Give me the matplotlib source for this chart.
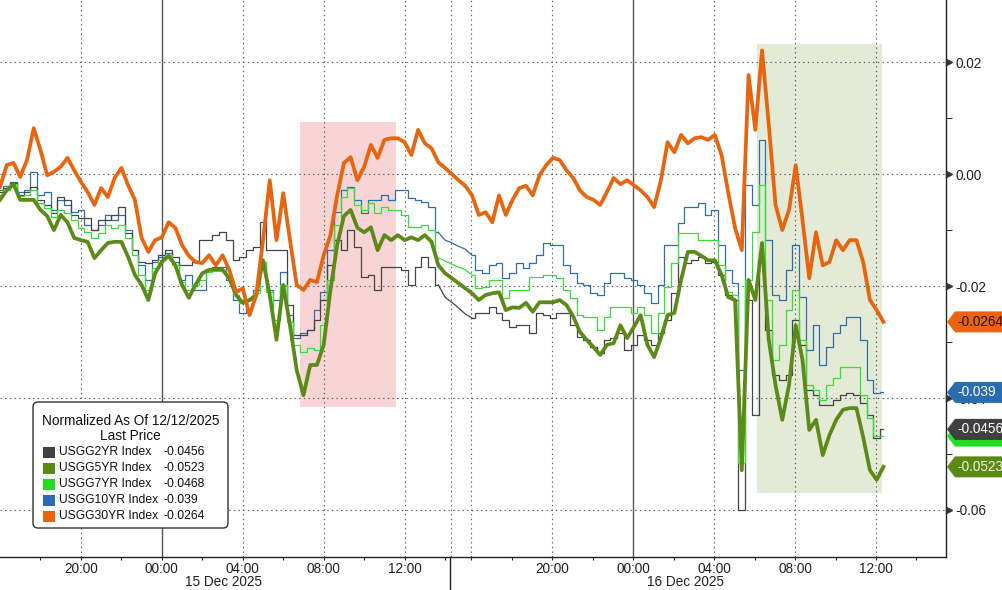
import numpy as np
import matplotlib
matplotlib.use("Agg")
import matplotlib.pyplot as plt
import matplotlib.transforms as mtransforms
from matplotlib.patches import Polygon, Rectangle, FancyBboxPatch

plt.rcParams['font.family'] = ['Liberation Sans', 'DejaVu Sans']

# 20-minute samples, hours since 14 Dec 16:00 (the session break is squeezed out)
hours = np.arange(132) / 3.0
GAP = (65, 70)  # samples either side of the break, joined by a straight line

usgg2yr = [-0.0032, -0.0025, -0.0016, -0.0038, -0.0032, -0.0023, -0.0046, -0.0055, -0.0070, -0.0041,
           -0.0046, -0.0073, -0.0079, -0.0079, -0.0100, -0.0082, -0.0082, -0.0073, -0.0059, -0.0105,
           -0.0136, -0.0157, -0.0159, -0.0154, -0.0145, -0.0136, -0.0148, -0.0163, -0.0163, -0.0157,
           -0.0118, -0.0118, -0.0109, -0.0104, -0.0118, -0.0154, -0.0148, -0.0136, -0.0130, -0.0086,
           -0.0136, -0.0136, -0.0136, -0.0234, -0.0288, -0.0288, -0.0279, -0.0261, -0.0225, -0.0163,
           -0.0118, -0.0136, -0.0100, -0.0130, -0.0184, -0.0180, -0.0207, -0.0166, -0.0166, -0.0166,
           -0.0171, -0.0198, -0.0166, -0.0148, -0.0166, -0.0198, -0.0220, -0.0229, -0.0239, -0.0250,
           -0.0257, -0.0248, -0.0248, -0.0238, -0.0248, -0.0261, -0.0273, -0.0270, -0.0270, -0.0284,
           -0.0248, -0.0252, -0.0257, -0.0248, -0.0248, -0.0270, -0.0291, -0.0296, -0.0309, -0.0320,
           -0.0296, -0.0293, -0.0284, -0.0314, -0.0305, -0.0288, -0.0296, -0.0305, -0.0284, -0.0261,
           -0.0213, -0.0148, -0.0159, -0.0154, -0.0148, -0.0159, -0.0157, -0.0180, -0.0216, -0.0225,
           -0.0600, -0.0225, -0.0430, -0.0154, -0.0279, -0.0359, -0.0368, -0.0359, -0.0261, -0.0305,
           -0.0386, -0.0395, -0.0413, -0.0413, -0.0404, -0.0395, -0.0391, -0.0395, -0.0409, -0.0430,
           -0.0471, -0.0456]

usgg5yr = [-0.0046, -0.0029, -0.0018, -0.0046, -0.0046, -0.0046, -0.0064, -0.0075, -0.0100, -0.0073,
           -0.0086, -0.0114, -0.0118, -0.0121, -0.0150, -0.0136, -0.0123, -0.0121, -0.0121, -0.0148,
           -0.0180, -0.0198, -0.0225, -0.0177, -0.0157, -0.0146, -0.0163, -0.0198, -0.0221, -0.0198,
           -0.0177, -0.0171, -0.0171, -0.0171, -0.0186, -0.0216, -0.0230, -0.0225, -0.0216, -0.0154,
           -0.0216, -0.0296, -0.0198, -0.0270, -0.0350, -0.0395, -0.0341, -0.0341, -0.0305, -0.0207,
           -0.0127, -0.0075, -0.0064, -0.0096, -0.0104, -0.0095, -0.0136, -0.0109, -0.0118, -0.0109,
           -0.0118, -0.0113, -0.0118, -0.0109, -0.0121, -0.0163, -0.0177, -0.0186, -0.0195, -0.0204,
           -0.0213, -0.0225, -0.0216, -0.0213, -0.0211, -0.0243, -0.0238, -0.0239, -0.0230, -0.0246,
           -0.0229, -0.0229, -0.0229, -0.0225, -0.0234, -0.0254, -0.0282, -0.0296, -0.0309, -0.0323,
           -0.0305, -0.0302, -0.0270, -0.0293, -0.0273, -0.0252, -0.0305, -0.0327, -0.0293, -0.0252,
           -0.0248, -0.0189, -0.0139, -0.0139, -0.0146, -0.0154, -0.0154, -0.0180, -0.0220, -0.0225,
           -0.0529, -0.0189, -0.0225, -0.0123, -0.0296, -0.0377, -0.0439, -0.0377, -0.0270, -0.0332,
           -0.0457, -0.0439, -0.0502, -0.0466, -0.0439, -0.0421, -0.0418, -0.0418, -0.0470, -0.0529,
           -0.0546, -0.0523]

usgg7yr = [-0.0038, -0.0029, -0.0018, -0.0039, -0.0038, -0.0029, -0.0052, -0.0061, -0.0077, -0.0064,
           -0.0070, -0.0082, -0.0096, -0.0104, -0.0114, -0.0105, -0.0091, -0.0096, -0.0091, -0.0114,
           -0.0145, -0.0180, -0.0207, -0.0168, -0.0154, -0.0145, -0.0163, -0.0193, -0.0207, -0.0198,
           -0.0189, -0.0175, -0.0171, -0.0171, -0.0186, -0.0216, -0.0230, -0.0225, -0.0213, -0.0157,
           -0.0211, -0.0261, -0.0198, -0.0264, -0.0305, -0.0318, -0.0311, -0.0314, -0.0270, -0.0189,
           -0.0091, -0.0041, -0.0025, -0.0055, -0.0064, -0.0052, -0.0070, -0.0059, -0.0064, -0.0064,
           -0.0073, -0.0095, -0.0095, -0.0091, -0.0100, -0.0150, -0.0155, -0.0161, -0.0166, -0.0171,
           -0.0180, -0.0204, -0.0202, -0.0189, -0.0189, -0.0221, -0.0207, -0.0207, -0.0207, -0.0184,
           -0.0184, -0.0180, -0.0180, -0.0186, -0.0207, -0.0221, -0.0252, -0.0255, -0.0255, -0.0279,
           -0.0255, -0.0238, -0.0238, -0.0238, -0.0248, -0.0238, -0.0252, -0.0284, -0.0248, -0.0202,
           -0.0159, -0.0105, -0.0105, -0.0105, -0.0118, -0.0118, -0.0118, -0.0163, -0.0211, -0.0216,
           -0.0516, -0.0189, -0.0104, -0.0020, -0.0225, -0.0332, -0.0305, -0.0243, -0.0207, -0.0296,
           -0.0377, -0.0386, -0.0404, -0.0377, -0.0364, -0.0345, -0.0345, -0.0345, -0.0395, -0.0436,
           -0.0468, -0.0468]

usgg10yr = [-0.0029, -0.0021, -0.0014, -0.0032, -0.0029, 0.0004, -0.0038, -0.0032, -0.0064, -0.0046,
            -0.0055, -0.0068, -0.0064, -0.0091, -0.0100, -0.0091, -0.0073, -0.0082, -0.0073, -0.0100,
            -0.0136, -0.0163, -0.0189, -0.0157, -0.0148, -0.0141, -0.0157, -0.0189, -0.0180, -0.0207,
            -0.0207, -0.0171, -0.0166, -0.0166, -0.0189, -0.0225, -0.0248, -0.0225, -0.0207, -0.0157,
            -0.0207, -0.0225, -0.0175, -0.0252, -0.0293, -0.0284, -0.0279, -0.0243, -0.0211, -0.0136,
            -0.0068, -0.0029, -0.0023, -0.0046, -0.0070, -0.0046, -0.0046, -0.0038, -0.0046, -0.0029,
            -0.0029, -0.0043, -0.0046, -0.0050, -0.0059, -0.0104, -0.0118, -0.0123, -0.0129, -0.0134,
            -0.0145, -0.0171, -0.0177, -0.0163, -0.0159, -0.0186, -0.0177, -0.0159, -0.0168, -0.0159,
            -0.0145, -0.0123, -0.0127, -0.0127, -0.0163, -0.0177, -0.0195, -0.0198, -0.0213, -0.0216,
            -0.0195, -0.0177, -0.0177, -0.0186, -0.0189, -0.0198, -0.0213, -0.0230, -0.0198, -0.0127,
            -0.0127, -0.0088, -0.0059, -0.0059, -0.0052, -0.0073, -0.0064, -0.0127, -0.0171, -0.0195,
            -0.0350, -0.0020, -0.0055, 0.0061, -0.0118, -0.0216, -0.0225, -0.0171, -0.0127, -0.0220,
            -0.0314, -0.0270, -0.0341, -0.0309, -0.0284, -0.0270, -0.0255, -0.0255, -0.0296, -0.0368,
            -0.0391, -0.0390]

usgg30yr = [-0.0023, 0.0016, 0.0020, -0.0005, 0.0025, 0.0082, 0.0043, -0.0002, 0.0004, 0.0013,
            0.0029, 0.0007, -0.0014, -0.0032, -0.0055, -0.0025, -0.0041, -0.0007, 0.0011, -0.0020,
            -0.0046, -0.0114, -0.0139, -0.0118, -0.0113, -0.0086, -0.0096, -0.0127, -0.0146, -0.0157,
            -0.0159, -0.0145, -0.0163, -0.0145, -0.0171, -0.0211, -0.0204, -0.0252, -0.0216, -0.0118,
            -0.0011, -0.0118, -0.0034, -0.0118, -0.0198, -0.0207, -0.0189, -0.0193, -0.0145, -0.0109,
            -0.0038, 0.0020, 0.0030, -0.0011, 0.0013, 0.0052, 0.0029, 0.0061, 0.0064, 0.0064,
            0.0057, 0.0034, 0.0079, 0.0055, 0.0046, 0.0021, 0.0011, 0.0000, -0.0011, -0.0021,
            -0.0038, -0.0073, -0.0068, -0.0086, -0.0038, -0.0073, -0.0046, -0.0025, -0.0021, -0.0038,
            -0.0002, 0.0016, 0.0029, 0.0025, 0.0007, -0.0007, -0.0029, -0.0041, -0.0046, -0.0055,
            -0.0032, -0.0007, -0.0018, -0.0011, -0.0020, -0.0029, -0.0041, -0.0059, -0.0011, 0.0057,
            0.0039, 0.0070, 0.0055, 0.0064, 0.0066, 0.0061, 0.0070, 0.0034, -0.0034, -0.0096,
            -0.0136, 0.0177, 0.0079, 0.0221, 0.0088, -0.0055, -0.0100, -0.0064, 0.0016, -0.0082,
            -0.0186, -0.0104, -0.0163, -0.0157, -0.0118, -0.0136, -0.0118, -0.0118, -0.0157, -0.0225,
            -0.0243, -0.0264]

names = ["USGG2YR Index", "USGG5YR Index", "USGG7YR Index", "USGG10YR Index", "USGG30YR Index"]
last_price = ["-0.0456", "-0.0523", "-0.0468", "-0.039", "-0.0264"]
series = [usgg2yr, usgg5yr, usgg7yr, usgg10yr, usgg30yr]
colors = ["#454545", "#5b8a18", "#35e035", "#2f6eae", "#e8650f"]
tag_colors = ["#404040", "#5a8a14", "#22dd22", "#2a6cb0", "#ea640f"]
tag_text = ["white", "#eef8dc", "#0a3a0a", "white", "#2a1000"]
tag_order = [4, 3, 2, 0, 1]  # later ones sit on top

tick_hours = [4, 8, 12, 16, 20, 27.3, 31.3, 35.3, 39.3, 43.3]
tick_labels = ["20:00", "00:00", "04:00", "08:00", "12:00"] * 2
minor_hours = [2, 6, 10, 14, 18, 22, 23.3, 25.3, 29.3, 33.3, 37.3, 41.3, 45.3]
dotted_hours = [4, 12, 16, 20, 22.3, 23.3, 27.3, 35.3, 39.3, 43.3]
midnight_hours = [8, 31.3]
break_hour = 22.25
dates = [(11.05, "15 Dec 2025"), (33.9, "16 Dec 2025")]

# highlighted windows: (x0, x1, y0, y1)
pink_box = (14.83, 19.57, -0.0416, 0.0093)
green_box = (37.42, 43.6, -0.0570, 0.0232)

fig = plt.figure(figsize=(10.02, 5.90), dpi=100)
ax = fig.add_axes([0, 33 / 590, 946 / 1002, 557 / 590])
ax.set_xlim(0, 46.76)
ax.set_ylim(-0.0684, 0.0311)

for s in ["left", "top"]:
    ax.spines[s].set_visible(False)
for s in ["bottom", "right"]:
    ax.spines[s].set_color("#222222")
    ax.spines[s].set_linewidth(1)

# shaded windows
for (x0, x1, y0, y1), fc in [(pink_box, "#f8d4d4"), (green_box, "#e3ead6")]:
    ax.add_patch(Rectangle((x0, y0), x1 - x0, y1 - y0, fc=fc, ec="none", zorder=0.2))

dots = (0, (1.2, 3.0))
for v in [0.02, 0.0, -0.02, -0.04, -0.06]:
    ax.axhline(v, color="#555555", lw=0.8, ls=dots, zorder=0.5)
for h in dotted_hours:
    ax.axvline(h, color="#555555", lw=0.8, ls=dots, zorder=0.5)
for h in midnight_hours:
    ax.axvline(h, color="#555555", lw=1.0, zorder=0.5)


def draw_thin(y, color, z):
    y = np.asarray(y)
    a, b = GAP
    ax.plot(hours[:a + 1], y[:a + 1], drawstyle="steps-mid", color=color, lw=0.9, zorder=z)
    ax.plot(hours[a:b + 1], y[a:b + 1], color=color, lw=0.9, zorder=z)
    ax.plot(hours[b:], y[b:], drawstyle="steps-mid", color=color, lw=0.9, zorder=z)


draw_thin(usgg10yr, colors[3], 2)
draw_thin(usgg2yr, colors[0], 2.1)
draw_thin(usgg7yr, colors[2], 2.2)
ax.plot(hours, usgg5yr, color=colors[1], lw=2.7, zorder=3, solid_joinstyle="round")
ax.plot(hours, usgg30yr, color=colors[4], lw=2.7, zorder=3.1, solid_joinstyle="round")

# x axis
ax.set_xticks(tick_hours)
ax.set_xticklabels(tick_labels)
ax.set_xticks(minor_hours, minor=True)
ax.tick_params(axis="x", which="both", length=2.5, width=0.8, color="#222222",
               direction="out", pad=1, labelsize=9.8, labelcolor="#222222")
xt = mtransforms.blended_transform_factory(ax.transData, ax.transAxes)
for h, txt in dates:
    ax.text(h, -0.0449, txt, transform=xt, ha="center", va="center",
            fontsize=9.8, color="#222222", clip_on=False)
ax.plot([break_hour, break_hour], [0, -0.06], transform=xt, color="#222222",
        lw=1, clip_on=False)

# y axis on the right
ax.yaxis.tick_right()
ax.set_yticks([0.02, 0.0, -0.02, -0.04, -0.06])
ax.set_yticklabels(["0.02", "0.00", "-0.02", "-0.04", "-0.06"])
ax.set_yticks([0.01, -0.01, -0.03, -0.05], minor=True)
ax.tick_params(axis="y", which="major", length=0, pad=7, labelsize=9.8, labelcolor="#222222")
ax.tick_params(axis="y", which="minor", length=4, width=0.8, color="#333333", direction="out")
yt = mtransforms.blended_transform_factory(ax.transAxes, ax.transData)
ax.plot([1.0035] * 5, [0.02, 0.0, -0.02, -0.04, -0.06], transform=yt, ls="none",
        marker=">", ms=4.5, color="#333333", clip_on=False, zorder=4)

# last value tags on the right edge
tt = mtransforms.blended_transform_factory(mtransforms.IdentityTransform(), ax.transData)
half = 10.5 / 5600
for z, i in enumerate(tag_order):
    v = series[i][-1]
    pts = [(947, v), (955, v + half), (1002, v + half), (1002, v - half), (955, v - half)]
    ax.add_patch(Polygon(pts, closed=True, transform=tt, fc=tag_colors[i], ec="none",
                         clip_on=False, zorder=10 + z))
    ax.text(957, v, last_price[i], transform=tt, ha="left", va="center", fontsize=9.8,
            color=tag_text[i], clip_on=False, zorder=10.5 + z)

# legend box, laid out in picture pixels (origin top-left)
px = mtransforms.Affine2D().scale(1, -1).translate(0, 590)
fig.add_artist(FancyBboxPatch((33, 402), 195, 126, boxstyle="round,pad=0,rounding_size=5",
                              transform=px, fc="white", ec="#333333", lw=1, zorder=5))
fig.text(130.5, 421, "Normalized As Of 12/12/2025", transform=px, ha="center", va="center",
         fontsize=9.8, color="#111111", zorder=6)
fig.text(130.5, 436, "Last Price", transform=px, ha="center", va="center",
         fontsize=9.8, color="#111111", zorder=6)
for i, name in enumerate(names):
    yc = 452 + 16 * i
    fig.add_artist(Rectangle((43, yc - 5.5), 12, 11, transform=px, fc=tag_colors[i],
                             ec="none", zorder=6))
    fig.text(59, yc, name, transform=px, ha="left", va="center", fontsize=8.7,
             color="#111111", zorder=6)
    fig.text(164, yc, last_price[i], transform=px, ha="left", va="center", fontsize=8.7,
             color="#111111", zorder=6)

fig.savefig("out.png", dpi=100)
